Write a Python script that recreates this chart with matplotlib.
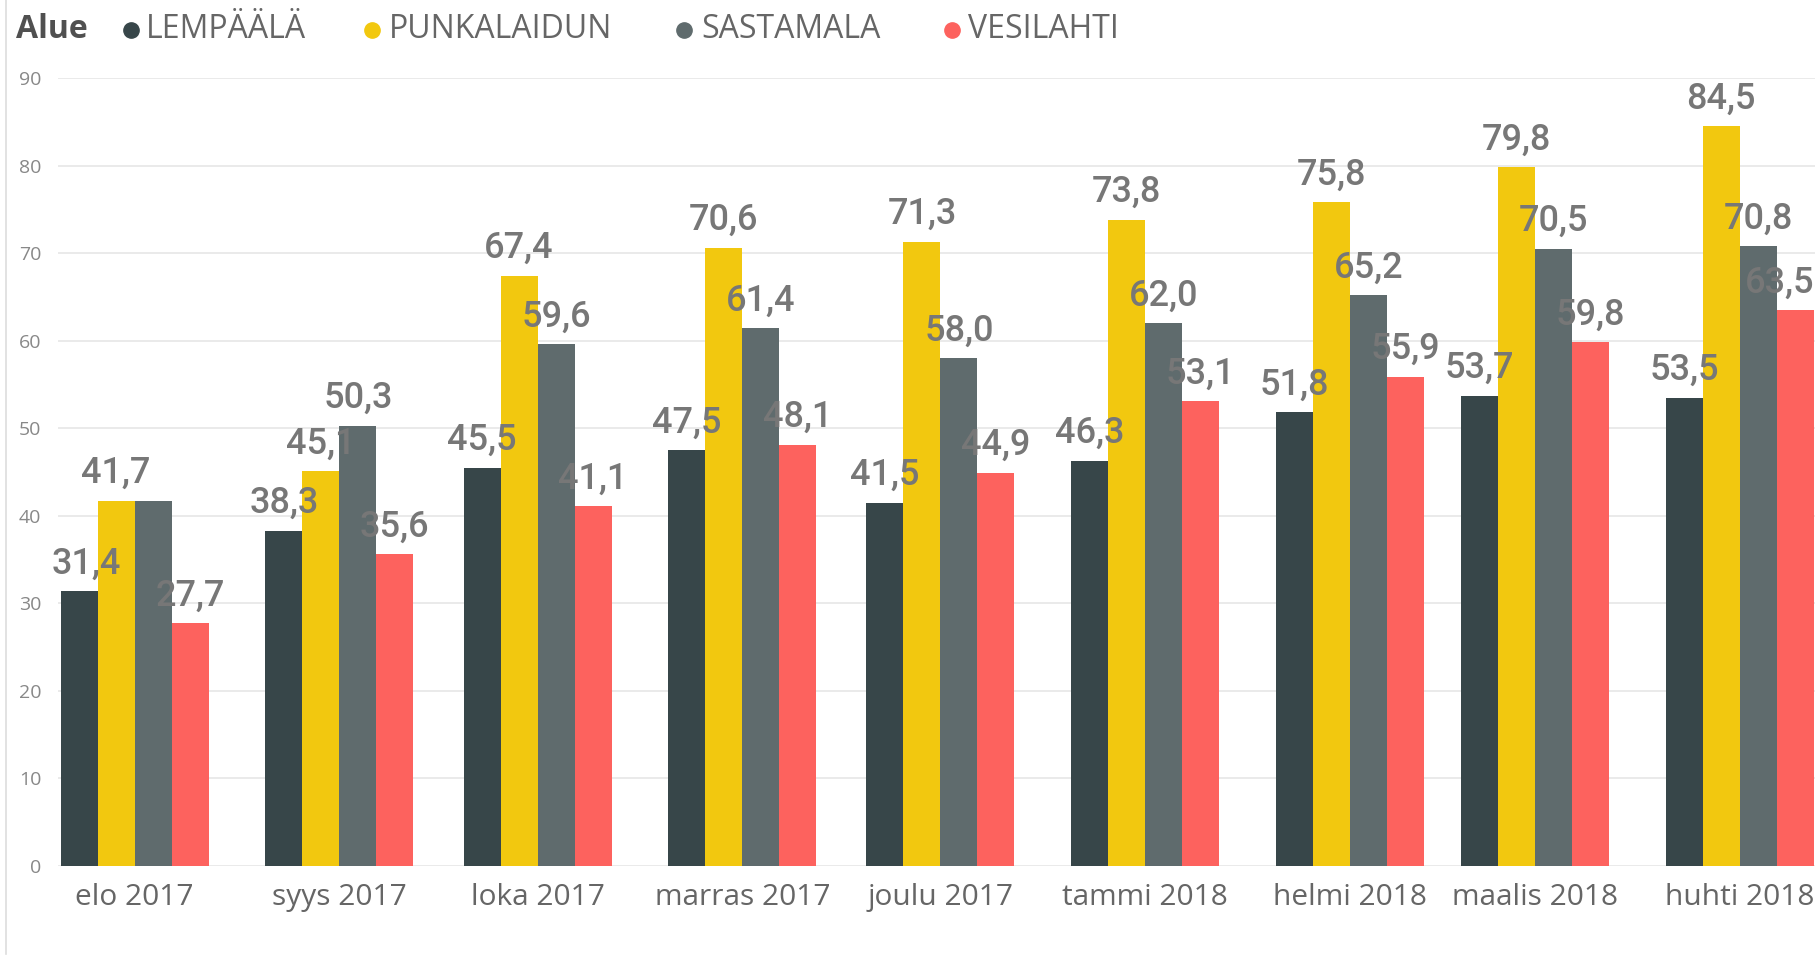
import numpy as np
import matplotlib.pyplot as plt
from matplotlib.lines import Line2D

months = ["elo 2017", "syys 2017", "loka 2017", "marras 2017", "joulu 2017",
          "tammi 2018", "helmi 2018", "maalis 2018", "huhti 2018"]
month_start = np.array(["2017-08-01", "2017-09-01", "2017-10-01", "2017-11-01", "2017-12-01",
                        "2018-01-01", "2018-02-01", "2018-03-01", "2018-04-01"], dtype="datetime64[D]")

series = ["LEMPÄÄLÄ", "PUNKALAIDUN", "SASTAMALA", "VESILAHTI"]
lempaala = [31.4, 38.3, 45.5, 47.5, 41.5, 46.3, 51.8, 53.7, 53.5]
punkalaidun = [41.7, 45.1, 67.4, 70.6, 71.3, 73.8, 75.8, 79.8, 84.5]
sastamala = [41.7, 50.3, 59.6, 61.4, 58.0, 62.0, 65.2, 70.5, 70.8]
vesilahti = [27.7, 35.6, 41.1, 48.1, 44.9, 53.1, 55.9, 59.8, 63.5]
colors = ["#374649", "#F2C80F", "#5F6B6D", "#FD625E"]

yticks = [0, 10, 20, 30, 40, 50, 60, 70, 80, 90]

# continuous date axis: position in days from first month
days = (month_start - month_start[0]).astype(int)
bar_w = 5.6
lab_off = 7

fig = plt.figure(figsize=(18.18, 9.59), dpi=100)
ax = fig.add_axes([58 / 1818, 1 - 866 / 959, (1815 - 58) / 1818, (866 - 78) / 959])

label_font = dict(family="Roboto", weight="medium", size=26, color="#777777")
anns = []
for i, vals in enumerate([lempaala, punkalaidun, sastamala, vesilahti]):
    xs = days + (i - 1.5) * bar_w
    ax.bar(xs, vals, width=bar_w, color=colors[i], zorder=2)
    for x, v in zip(xs, vals):
        a = ax.annotate(f"{v:.1f}".replace(".", ","), (x, v), xytext=(0, lab_off),
                        textcoords="offset points", ha="center", va="bottom",
                        zorder=3, annotation_clip=False, **label_font)
        anns.append(a)

ax.set_xlim(-11.6, 254.4)
ax.set_ylim(0, 90)
ax.set_yticks(yticks)
ax.set_xticks(days)
ax.set_xticklabels(months, family="Open Sans", fontsize=21.5, color="#666666")
for t in ax.get_yticklabels():
    t.set_family("Open Sans")
    t.set_fontsize(14)
    t.set_color("#888888")
ax.tick_params(axis="both", length=0)
ax.tick_params(axis="y", pad=12)
ax.tick_params(axis="x", pad=12)
ax.grid(axis="y", color="#e8e8e8", linewidth=1.3, zorder=0)
for s in ax.spines.values():
    s.set_visible(False)

# legend header
ly = 1 - 30 / 959
fig.text(16 / 1818, ly, "Alue", family="Open Sans", weight="bold",
         fontsize=23, color="#505050", va="center")
dot_x = [131, 372, 684, 952]
txt_x = [146, 389, 701, 968]
for name, c, dx, tx in zip(series, colors, dot_x, txt_x):
    fig.add_artist(Line2D([dx / 1818], [ly], marker="o", markersize=11,
                          color=c, linestyle="none"))
    fig.text(tx / 1818, ly, name, family="Open Sans", fontsize=23,
             color="#666666", va="center")

# left border of the visual
fig.add_artist(Line2D([6 / 1818, 6 / 1818], [0.005, 1.0], color="#dddddd", linewidth=1.2))

# keep data labels inside the plot area, hide labels that sit on top of another
fig.canvas.draw()
r = fig.canvas.get_renderer()
abox = ax.get_window_extent(r)
placed = []
for a in anns:
    bb = a.get_window_extent(r)
    dx = 0
    if bb.x0 < abox.x0 - 6:
        dx = abox.x0 - 6 - bb.x0
    elif bb.x1 > abox.x1:
        dx = abox.x1 - bb.x1
    if dx:
        a.xyann = (dx * 72 / fig.dpi, lab_off)
        bb = bb.translated(dx, 0)
    hidden = False
    for p in placed:
        ox = min(bb.x1, p.x1) - max(bb.x0, p.x0)
        oy = min(bb.y1, p.y1) - max(bb.y0, p.y0)
        if ox > 0 and oy > 0 and ox * oy > 0.4 * bb.width * bb.height:
            hidden = True
    if hidden:
        a.set_visible(False)
    else:
        placed.append(bb)

fig.savefig("out.png", dpi=100)
